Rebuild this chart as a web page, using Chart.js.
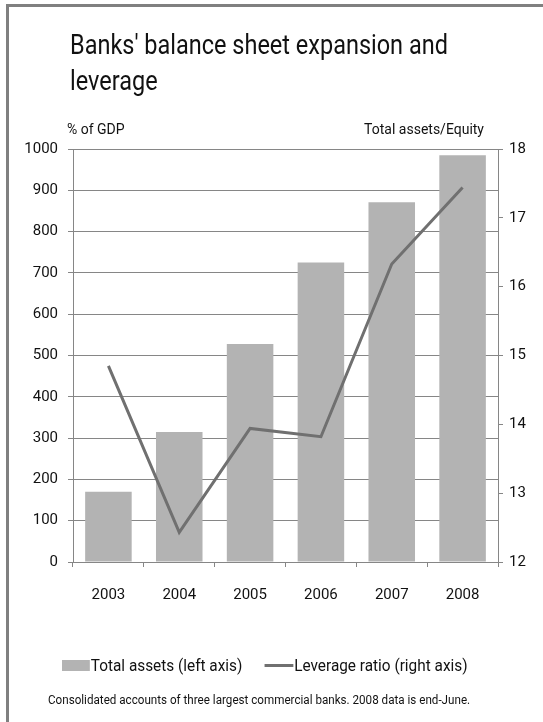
<!DOCTYPE html>
<html>
<head>
<meta charset="utf-8">
<script src="https://cdn.jsdelivr.net/npm/chart.js@4.4.1/dist/chart.umd.min.js"></script>
<style>
  html, body { margin: 0; padding: 0; background: #fff; }
  body { width: 543px; height: 722px; position: relative; overflow: hidden;
         font-family: Roboto, "Liberation Sans", sans-serif; color: #111; }
  #frame { position: absolute; left: 6px; top: 4px; width: 540px; height: 720px;
           border-left: 3px solid #808080; border-top: 3px solid #808080; }
  #chart { position: absolute; left: 0; top: 0; }
  .txt { position: absolute; white-space: nowrap; transform-origin: left top; }
  #title { left: 70px; top: 27px; font-size: 27px; line-height: 36px; transform: scaleX(0.87); }
  #unitL { left: 67px; top: 121px; font-size: 14px; }
  #unitR { right: 59px; top: 121px; font-size: 14px; }
  #legend { left: 62px; top: 656px; font-size: 16px; display: flex; align-items: center; transform: scaleX(0.96); }
  .sw-bar { display: inline-block; width: 29px; height: 11px; background: #b3b3b3; margin-right: 1px; }
  .sw-line { display: inline-block; width: 30px; height: 3px; background: #707070; margin: 0 1px 0 23px; }
  #note { left: 48px; top: 693px; font-size: 12px; transform: scaleX(0.97); }
</style>
</head>
<body>
<div id="frame"></div>
<canvas id="chart" width="543" height="722"></canvas>
<div class="txt" id="title">Banks' balance sheet expansion and<br>leverage</div>
<div class="txt" id="unitL">% of GDP</div>
<div class="txt" id="unitR">Total assets/Equity</div>
<div class="txt" id="legend"><span class="sw-bar"></span>Total assets (left axis)<span class="sw-line"></span>Leverage ratio (right axis)</div>
<div class="txt" id="note">Consolidated accounts of three largest commercial banks. 2008 data is end-June.</div>
<script>
// values
const years = ['2003', '2004', '2005', '2006', '2007', '2008']
const totalAssets = [170, 315, 528, 725, 871, 985]      // % of GDP, left axis
const leverage = [14.85, 12.43, 13.94, 13.82, 16.33, 17.44] // total assets/equity, right axis

const FONT = 'Roboto, "Liberation Sans", sans-serif'
const AXIS = '#868686'

const ctx = document.getElementById('chart').getContext('2d')

new Chart(ctx, {
    data: {
        labels: years,
        datasets: [
            {
                type: 'line',
                label: 'Leverage ratio (right axis)',
                data: leverage,
                yAxisID: 'y1',
                borderColor: '#707070',
                borderWidth: 3,
                pointRadius: 0,
                tension: 0,
                order: 0
            },
            {
                type: 'bar',
                label: 'Total assets (left axis)',
                data: totalAssets,
                yAxisID: 'y',
                backgroundColor: '#b3b3b3',
                barPercentage: 0.657,
                categoryPercentage: 1,
                order: 1
            }
        ]
    },
    options: {
        responsive: false,
        animation: false,
        devicePixelRatio: 1,
        layout: { padding: { top: 149, bottom: 0, left: 0, right: 0 } },
        plugins: { legend: { display: false }, tooltip: { enabled: false } },
        scales: {
            x: {
                offset: true,
                grid: { offset: true, drawOnChartArea: false, drawTicks: true, tickLength: 5, color: AXIS },
                border: { color: AXIS },
                ticks: { color: '#111', font: { family: FONT, size: 15 }, padding: 19 },
                afterFit: (axis) => { axis.height = 160 }
            },
            y: {
                position: 'left',
                min: 0,
                max: 1000,
                ticks: { stepSize: 100, color: '#111', font: { family: FONT, size: 15 }, padding: 10,
                         callback: (v) => String(v) },
                grid: { color: AXIS, tickLength: 5 },
                border: { color: AXIS },
                afterFit: (axis) => { axis.width = 73 }
            },
            y1: {
                position: 'right',
                min: 12,
                max: 18,
                ticks: { stepSize: 1, color: '#111', font: { family: FONT, size: 15 }, padding: 6 },
                grid: { drawOnChartArea: false, color: AXIS, tickLength: 5 },
                border: { color: AXIS },
                afterFit: (axis) => { axis.width = 45 }
            }
        }
    }
})
</script>
</body>
</html>
